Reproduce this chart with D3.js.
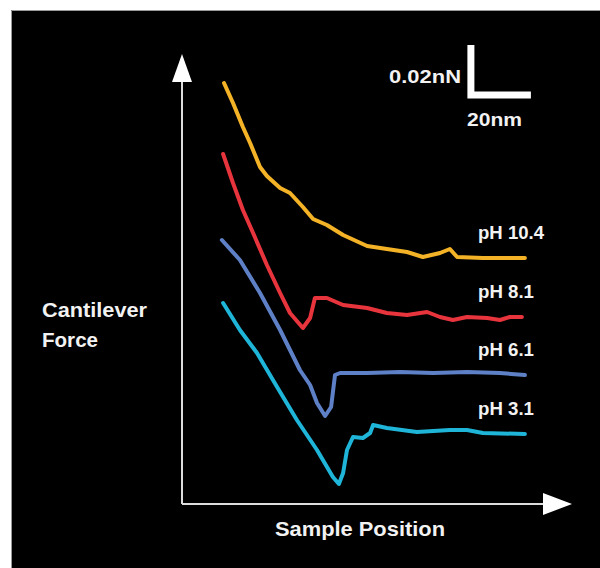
<!DOCTYPE html>
<html>
<head>
<meta charset="utf-8">
<script src="https://cdn.jsdelivr.net/npm/d3@7"></script>
<style>
    body { margin: 0; background: #fff; }
    text { font-family: "Liberation Sans", Arial, sans-serif; font-weight: bold; fill: #f2f2f2; }
</style>
</head>
<body>
<div id="chart"></div>
<script>
// sample position in nm, cantilever force in pN (0.02 nN = 20 pN)
let seriesNames = ["pH 10.4", "pH 8.1", "pH 6.1", "pH 3.1"];
let seriesColors = ["#f4b327", "#e8343c", "#5e80c6", "#1fb5d8"];

let ph104X = [14.0, 17.0, 20.3, 22.7, 26.0, 28.3, 32.7, 36.0, 40.3, 43.7, 48.3, 53.7, 61.7, 68.3, 75.0, 80.3, 86.0, 89.3, 91.7, 100.3, 106.0, 114.3];
let ph104Y = [168.4, 160.4, 150.8, 144.4, 134.8, 131.2, 126.4, 124.4, 118.8, 114.0, 111.6, 107.6, 103.2, 102.0, 100.8, 98.8, 100.4, 102.0, 98.8, 98.4, 98.4, 98.4];

let ph81X = [13.7, 17.0, 20.3, 23.7, 28.3, 32.7, 36.0, 40.3, 42.7, 44.3, 48.3, 53.7, 61.7, 68.3, 75.0, 81.7, 86.0, 90.3, 95.0, 101.7, 106.0, 109.3, 113.3];
let ph81Y = [140.0, 128.4, 117.6, 108.4, 95.6, 84.4, 76.4, 70.4, 74.4, 82.4, 82.4, 79.6, 78.4, 76.4, 75.6, 76.8, 74.8, 73.6, 74.8, 74.4, 73.6, 74.8, 74.8];

let ph61X = [13.3, 19.3, 26.0, 32.7, 39.3, 42.7, 45.0, 47.7, 49.7, 51.0, 52.7, 61.7, 72.7, 83.7, 95.0, 106.0, 114.3];
let ph61Y = [105.6, 97.6, 84.4, 69.6, 53.6, 47.6, 40.4, 35.2, 38.8, 51.6, 52.4, 52.4, 52.8, 52.4, 52.8, 52.4, 51.6];

let ph31X = [13.7, 19.3, 25.0, 31.7, 38.3, 45.0, 50.3, 52.3, 53.7, 55.0, 57.0, 60.3, 62.7, 63.7, 68.3, 78.3, 89.3, 95.0, 100.3, 114.3];
let ph31Y = [80.4, 69.6, 60.4, 46.8, 33.6, 21.6, 10.8, 8.0, 12.4, 21.6, 26.8, 26.4, 28.4, 31.6, 30.4, 28.8, 29.6, 29.6, 28.4, 28.0];

let seriesX = [ph104X, ph81X, ph61X, ph31X];
let seriesY = [ph104Y, ph81Y, ph61Y, ph31Y];

// scale bar: 20 nm by 20 pN
let barNm = 20, barPn = 20;

let width = 600, height = 568;

let svg = d3.select("#chart")
    .append("svg")
    .attr("width", width)
    .attr("height", height);

// black panel with thin grey edge
svg.append("rect")
    .attr("x", 11).attr("y", 10)
    .attr("width", width - 11).attr("height", height - 10)
    .attr("fill", "#000");
svg.append("path")
    .attr("d", "M11.5," + height + "V10.5H" + width)
    .attr("fill", "none")
    .attr("stroke", "#9a9a9a")
    .attr("stroke-width", 1);

let x = d3.scaleLinear().domain([0, 130]).range([182, 572]);
let y = d3.scaleLinear().domain([0, 180]).range([504, 54]);

// axes with arrow heads
let axisColor = "#dcdcdc";
svg.append("line")
    .attr("x1", x(0)).attr("y1", y(0))
    .attr("x2", x(0)).attr("y2", y(180) + 26)
    .attr("stroke", axisColor).attr("stroke-width", 2);
svg.append("line")
    .attr("x1", x(0)).attr("y1", y(0))
    .attr("x2", x(130) - 28).attr("y2", y(0))
    .attr("stroke", axisColor).attr("stroke-width", 2);
svg.append("path")
    .attr("d", "M" + x(0) + "," + y(180) + "L" + (x(0) + 10) + "," + (y(180) + 28) + "L" + (x(0) - 10) + "," + (y(180) + 28) + "Z")
    .attr("fill", "#fff");
svg.append("path")
    .attr("d", "M" + x(130) + "," + y(0) + "L" + (x(130) - 29) + "," + (y(0) - 11) + "L" + (x(130) - 29) + "," + (y(0) + 11) + "Z")
    .attr("fill", "#fff");

// curves
let line = d3.line()
    .x(function (d) { return x(d[0]); })
    .y(function (d) { return y(d[1]); });

// condensed look: squeeze the text into the width seen in the picture
function squeeze(sel, w) {
    sel.attr("textLength", w).attr("lengthAdjust", "spacingAndGlyphs");
    return sel;
}

let labelWidths = [66, 56, 56, 56];

seriesNames.forEach(function (name, i) {
    let pts = seriesX[i].map(function (v, j) { return [v, seriesY[i][j]]; });
    svg.append("path")
        .datum(pts)
        .attr("d", line)
        .attr("fill", "none")
        .attr("stroke", seriesColors[i])
        .attr("stroke-width", 4)
        .attr("stroke-linejoin", "round")
        .attr("stroke-linecap", "round");

    let last = pts[pts.length - 1];
    squeeze(svg.append("text")
        .attr("x", 478)
        .attr("y", y(last[1]) - 19)
        .style("font-size", "18px")
        .text(name), labelWidths[i]);
});

// scale bar
let bx = 96.3, by = 163.6;
svg.append("path")
    .attr("d", "M" + x(bx) + "," + y(by + barPn) + "V" + y(by) + "H" + x(bx + barNm))
    .attr("fill", "none")
    .attr("stroke", "#fff")
    .attr("stroke-width", 7)
    .attr("stroke-linejoin", "miter");
squeeze(svg.append("text")
    .attr("x", 461).attr("y", 83)
    .attr("text-anchor", "end")
    .style("font-size", "18px")
    .text("0.02nN"), 72);
squeeze(svg.append("text")
    .attr("x", 467).attr("y", 126)
    .style("font-size", "18px")
    .text("20nm"), 55);

// axis titles
squeeze(svg.append("text")
    .attr("x", 42).attr("y", 317)
    .style("font-size", "21px")
    .text("Cantilever"), 105);
squeeze(svg.append("text")
    .attr("x", 42).attr("y", 347)
    .style("font-size", "21px")
    .text("Force"), 56);

squeeze(svg.append("text")
    .attr("x", 275).attr("y", 536)
    .style("font-size", "21px")
    .text("Sample Position"), 170);
</script>
</body>
</html>
